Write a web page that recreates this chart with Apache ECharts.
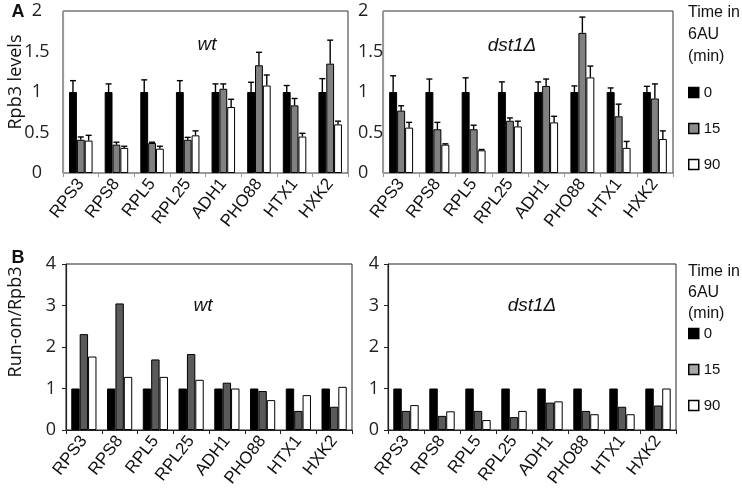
<!DOCTYPE html>
<html>
<head>
<meta charset="utf-8">
<script src="https://cdn.jsdelivr.net/npm/echarts@6/dist/echarts.min.js"></script>
<style>html,body{margin:0;padding:0;background:#fff}#c{width:742px;height:489px}</style>
</head>
<body>
<div id="c"></div>
<script>
var categories = ['RPS3','RPS8','RPL5','RPL25','ADH1','PHO88','HTX1','HXK2'];
var timeNames = ['0','15','90'];
var yTicksA = [0, 0.5, 1, 1.5, 2];
var yTicksB = [0, 1, 2, 3, 4];

// Panel A: Rpb3 levels, wt
var aWt0   = [1, 1, 1, 1, 1, 1, 1, 1];
var aWt15  = [0.41, 0.35, 0.37, 0.41, 1.04, 1.33, 0.835, 1.35];
var aWt90  = [0.40, 0.31, 0.30, 0.465, 0.815, 1.08, 0.45, 0.60];
var aWtSd0  = [0.14, 0.10, 0.15, 0.14, 0.10, 0.12, 0.08, 0.165];
var aWtSd15 = [0.035, 0.03, 0.01, 0.03, 0.06, 0.16, 0.085, 0.29];
var aWtSd90 = [0.065, 0.02, 0.03, 0.055, 0.095, 0.13, 0.04, 0.04];

// Panel A: Rpb3 levels, dst1Δ
var aDs0   = [1, 1, 1, 1, 1, 1, 1, 1];
var aDs15  = [0.77, 0.54, 0.54, 0.645, 1.075, 1.73, 0.70, 0.92];
var aDs90  = [0.56, 0.35, 0.28, 0.575, 0.625, 1.18, 0.31, 0.42];
var aDsSd0  = [0.20, 0.16, 0.175, 0.125, 0.125, 0.075, 0.05, 0.07];
var aDsSd15 = [0.06, 0.085, 0.05, 0.035, 0.085, 0.195, 0.15, 0.18];
var aDsSd90 = [0.065, 0.01, 0.01, 0.065, 0.075, 0.14, 0.08, 0.10];

// Panel B: Run-on/Rpb3
var bWt0  = [1, 1, 1, 1, 1, 1, 1, 1];
var bWt15 = [2.31, 3.05, 1.70, 1.83, 1.14, 0.94, 0.46, 0.56];
var bWt90 = [1.77, 1.28, 1.28, 1.21, 1.0, 0.72, 0.84, 1.04];
var bDs0  = [1, 1, 1, 1, 1, 1, 1, 1];
var bDs15 = [0.46, 0.34, 0.46, 0.31, 0.66, 0.46, 0.56, 0.59];
var bDs90 = [0.60, 0.45, 0.24, 0.46, 0.69, 0.38, 0.38, 1.0];

var FONT = 'Open Sans';
var LFONT = 'Liberation Sans';
var BAR_A = 0.22, BAR_B = 0.235;

function gridAt(left, top, width, height, col) {
  return {left: left, top: top, width: width, height: height, show: true,
    borderColor: col, borderWidth: 1, containLabel: false, outerBoundsMode: 'none'};
}
var grids = [
  gridAt(63, 11, 285, 162, '#333'),
  gridAt(383, 11, 290, 162, '#333'),
  gridAt(66, 264, 286, 166, '#222'),
  gridAt(388, 264, 288, 166, '#222')
];

function xAx(g, col) {
  return {
    type: 'category', gridIndex: g, data: categories,
    axisLine: {lineStyle: {color: col, width: 1.2}},
    axisTick: {show: true, length: 4, lineStyle: {color: col}},
    axisLabel: {rotate: 52, fontSize: 17, fontFamily: LFONT, color: '#111', margin: 8, interval: 0}
  };
}
function yAx(g, max, interval, col, ticks, align, margin) {
  return {
    type: 'value', gridIndex: g, min: 0, max: max, interval: interval,
    splitLine: {show: false},
    axisLine: {show: true, lineStyle: {color: col, width: 1.2}},
    axisTick: {show: ticks, length: 4, lineStyle: {color: col}},
    axisLabel: {fontSize: 18, fontFamily: FONT, color: '#222', align: align, margin: margin}
  };
}

function barSeries(name, xi, data, color, frac) {
  return {
    type: 'bar', name: name, xAxisIndex: xi, yAxisIndex: xi, data: data,
    barWidth: (frac * 100) + '%', barGap: '0%',
    itemStyle: {color: color, borderColor: '#000', borderWidth: 1},
    z: 2
  };
}
function errSeries(xi, vals, sds, idx, frac) {
  var d = vals.map(function (v, i) { return [i, v, sds[i]]; });
  return {
    type: 'custom', xAxisIndex: xi, yAxisIndex: xi, data: d,
    encode: {x: 0, y: 1}, z: 5, silent: true,
    renderItem: function (params, api) {
      var ci = api.value(0), v = api.value(1), e = api.value(2);
      var p = api.coord([ci, v]);
      var t = api.coord([ci, v + e]);
      var band = api.size([1, 0])[0];
      var w = band * frac;
      var cx = p[0] + (idx - 1) * w;
      var st = {stroke: '#000', lineWidth: 1.4};
      return {type: 'group', children: [
        {type: 'line', shape: {x1: cx, y1: p[1], x2: cx, y2: t[1]}, style: st},
        {type: 'line', shape: {x1: cx - 3, y1: t[1], x2: cx + 3, y2: t[1]}, style: st}
      ]};
    }
  };
}

var series = [
  barSeries(timeNames[0], 0, aWt0, '#000', BAR_A),
  barSeries(timeNames[1], 0, aWt15, '#808080', BAR_A),
  barSeries(timeNames[2], 0, aWt90, '#fff', BAR_A),
  errSeries(0, aWt0, aWtSd0, 0, BAR_A),
  errSeries(0, aWt15, aWtSd15, 1, BAR_A),
  errSeries(0, aWt90, aWtSd90, 2, BAR_A),
  barSeries(timeNames[0], 1, aDs0, '#000', BAR_A),
  barSeries(timeNames[1], 1, aDs15, '#808080', BAR_A),
  barSeries(timeNames[2], 1, aDs90, '#fff', BAR_A),
  errSeries(1, aDs0, aDsSd0, 0, BAR_A),
  errSeries(1, aDs15, aDsSd15, 1, BAR_A),
  errSeries(1, aDs90, aDsSd90, 2, BAR_A),
  barSeries(timeNames[0], 2, bWt0, '#000', BAR_B),
  barSeries(timeNames[1], 2, bWt15, '#5a5a5a', BAR_B),
  barSeries(timeNames[2], 2, bWt90, '#fff', BAR_B),
  barSeries(timeNames[0], 3, bDs0, '#000', BAR_B),
  barSeries(timeNames[1], 3, bDs15, '#5a5a5a', BAR_B),
  barSeries(timeNames[2], 3, bDs90, '#fff', BAR_B)
];

function legendAt(top, grayCol) {
  return {
    orient: 'vertical', left: 688, top: top, padding: 0,
    itemWidth: 10, itemHeight: 10, itemGap: 21, icon: 'rect',
    selectedMode: false,
    textStyle: {fontSize: 15, fontFamily: LFONT, color: '#111', lineHeight: 14, padding: 0},
    data: [
      {name: timeNames[0], itemStyle: {color: '#000', borderColor: '#000', borderWidth: 1.5}},
      {name: timeNames[1], itemStyle: {color: grayCol, borderColor: '#000', borderWidth: 1.5}},
      {name: timeNames[2], itemStyle: {color: '#fff', borderColor: '#000', borderWidth: 1.5}}
    ]
  };
}

function txt(x, y, s, opt) {
  opt = opt || {};
  return {
    type: 'text', x: x, y: y, rotation: opt.rot || 0, z: 10,
    style: {
      text: s, fontSize: opt.size || 16, fontFamily: opt.family || LFONT,
      fontStyle: opt.italic ? 'italic' : 'normal', fontWeight: opt.bold ? 'bold' : 'normal',
      fill: '#111', align: opt.align || 'center', verticalAlign: 'middle',
      lineHeight: opt.lh || 21
    }
  };
}

var option = {
  animation: false,
  grid: grids,
  xAxis: [xAx(0, '#999'), xAx(1, '#999'), xAx(2, '#222'), xAx(3, '#222')],
  yAxis: [
    yAx(0, 2, 0.5, '#999', false, 'center', 26),
    yAx(1, 2, 0.5, '#999', false, 'left', 25),
    yAx(2, 4, 1, '#222', true, 'right', 10),
    yAx(3, 4, 1, '#222', true, 'right', 9)
  ],
  legend: [legendAt(85, '#8c8c8c'), legendAt(326, '#a8a8a8')],
  series: series,
  graphic: [
    txt(18, 12, 'A', {bold: true, size: 18}),
    txt(18, 258, 'B', {bold: true, size: 18}),
    txt(16, 82, 'Rpb3 levels', {rot: Math.PI / 2, size: 18, family: FONT}),
    txt(16, 322, 'Run-on/Rpb3', {rot: Math.PI / 2, size: 18, family: FONT}),
    txt(207, 45, 'wt', {italic: true, size: 19}),
    txt(512, 46, 'dst1Δ', {italic: true, size: 19}),
    txt(203, 306, 'wt', {italic: true, size: 19}),
    txt(532, 306, 'dst1Δ', {italic: true, size: 19}),
    txt(688, 35, 'Time in\n6AU\n(min)', {align: 'left', size: 16, lh: 22}),
    txt(688, 293, 'Time in\n6AU\n(min)', {align: 'left', size: 16, lh: 21})
  ]
};

var chart = echarts.init(document.getElementById('c'), null, {renderer: 'canvas'});
chart.setOption(option);
</script>
</body>
</html>
